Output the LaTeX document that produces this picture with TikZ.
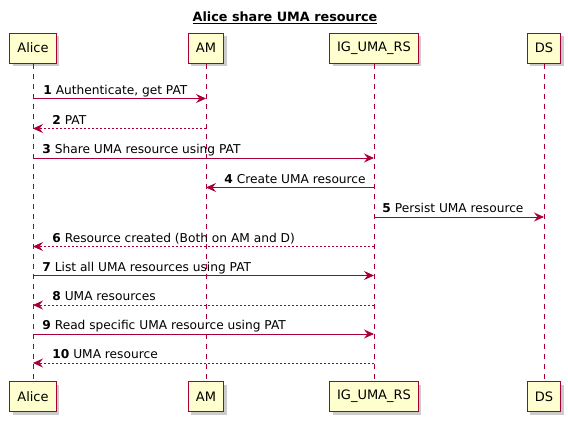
\documentclass[tikz,border=0pt]{standalone}
\usepackage{fontspec}
\setmainfont{DejaVu Sans}
\usetikzlibrary{arrows.meta,shadows}

\definecolor{umared}{HTML}{A80036}
\definecolor{umabox}{HTML}{FEFECE}

\begin{document}
\begin{tikzpicture}[
		x=1pt, y=-1pt,
		part/.style={rectangle, draw=umared, fill=umabox, line width=1pt,
			minimum height=30pt, inner xsep=7.5pt, font=\fontsize{13}{15}\selectfont,
			drop shadow={shadow xshift=3pt, shadow yshift=-3pt, fill=black!40, opacity=0.5}},
		life/.style={draw=umared, line width=0.8pt, dash pattern=on 5pt off 5pt},
		msg/.style={draw=umared, line width=0.9pt, -{Stealth[length=10pt, width=9pt, inset=3.5pt]}},
		reply/.style={msg, dash pattern=on 2pt off 2pt},
		lbl/.style={anchor=base west, inner sep=0pt, text=black, font=\fontsize{12.2}{14}\selectfont}
	]
  \useasboundingbox (0,0) rectangle (568,421);
  % title
  \node (title) [font=\bfseries\fontsize{12.8}{15}\selectfont] at (285,18) {\underline{Alice share UMA resource}};
  % participants, top and bottom
  \node (alice) [part] at (33,48) {Alice};
  \node (am) [part] at (206,48) {AM};
  \node (ig) [part] at (374,48) {IG\_UMA\_RS};
  \node (ds) [part] at (544,48) {DS};
  \node (alice_b) [part] at (33,396.5) {Alice};
  \node (am_b) [part] at (206,396.5) {AM};
  \node (ig_b) [part] at (374,396.5) {IG\_UMA\_RS};
  \node (ds_b) [part] at (544,396.5) {DS};
  % lifelines
  \draw[life] (alice) -- (alice_b);
  \draw[life] (am) -- (am_b);
  \draw[life] (ig) -- (ig_b);
  \draw[life] (ds) -- (ds_b);
  % message rows
  \coordinate (m1) at (0,98.5);
  \coordinate (m2) at (0,128.5);
  \coordinate (m3) at (0,158);
  \coordinate (m4) at (0,187.5);
  \coordinate (m5) at (0,217);
  \coordinate (m6) at (0,246.5);
  \coordinate (m7) at (0,275.5);
  \coordinate (m8) at (0,305);
  \coordinate (m9) at (0,334);
  \coordinate (m10) at (0,363);
  % messages
  \draw[msg] (alice |- m1) -- (am |- m1) node [lbl, pos=0, xshift=10pt, yshift=4.5pt] {\textbf{1} Authenticate, get PAT};
  \draw[reply] (am |- m2) -- (alice |- m2) node [lbl, pos=1, xshift=19pt, yshift=4.5pt] {\textbf{2} PAT};
  \draw[msg] (alice |- m3) -- (ig |- m3) node [lbl, pos=0, xshift=9pt, yshift=4.5pt] {\textbf{3} Share UMA resource using PAT};
  \draw[msg] (ig |- m4) -- (am |- m4) node [lbl, pos=1, xshift=18pt, yshift=4.5pt] {\textbf{4} Create UMA resource};
  \draw[msg] (ig |- m5) -- (ds |- m5) node [lbl, pos=0, xshift=8pt, yshift=4.5pt] {\textbf{5} Persist UMA resource};
  \draw[reply] (ig |- m6) -- (alice |- m6) node [lbl, pos=1, xshift=19pt, yshift=4.5pt] {\textbf{6} Resource created (Both on AM and D)};
  \draw[msg] (alice |- m7) -- (ig |- m7) node [lbl, pos=0, xshift=9pt, yshift=4.5pt] {\textbf{7} List all UMA resources using PAT};
  \draw[reply] (ig |- m8) -- (alice |- m8) node [lbl, pos=1, xshift=19pt, yshift=4.5pt] {\textbf{8} UMA resources};
  \draw[msg] (alice |- m9) -- (ig |- m9) node [lbl, pos=0, xshift=9pt, yshift=4.5pt] {\textbf{9} Read specific UMA resource using PAT};
  \draw[reply] (ig |- m10) -- (alice |- m10) node [lbl, pos=1, xshift=19pt, yshift=4.5pt] {\textbf{10} UMA resource};
\end{tikzpicture}
\end{document}
